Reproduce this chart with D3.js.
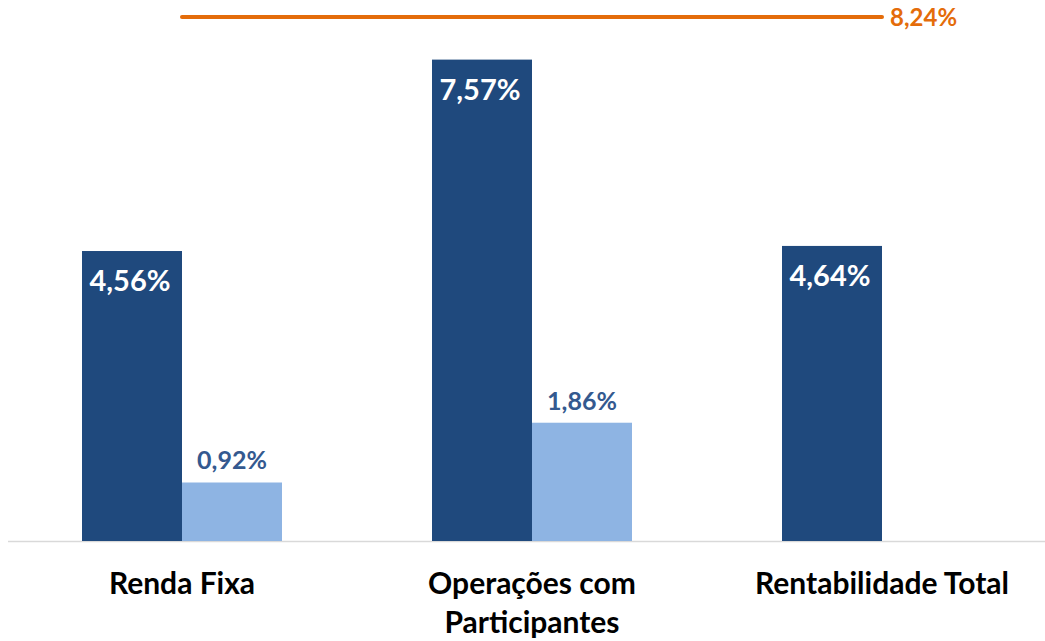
<!DOCTYPE html>
<html>
<head>
<meta charset="utf-8">
<script src="https://cdn.jsdelivr.net/npm/d3@7"></script>
<style>
  html, body { margin: 0; padding: 0; background: #fff; }
  svg { display: block; }
  text { font-family: Lato, "Open Sans", sans-serif; font-weight: 700; }
</style>
</head>
<body>
<svg id="chart" width="1045" height="641"></svg>
<script>
const categories = [["Renda Fixa"], ["Operações com", "Participantes"], ["Rentabilidade Total"]];
const seriesNames = ["Série 1", "Série 2"];
const series1 = [4.56, 7.57, 4.64];
const series2 = [0.92, 1.86, null];
const lineValues = [8.24, 8.24, 8.24];
const lineLabel = "8,24%";

const fmt = v => v.toFixed(2).replace(".", ",") + "%";

const W = 1045, H = 641;
const svg = d3.select("#chart");

const catKeys = categories.map(c => c.join(" "));
const x0 = d3.scaleBand().domain(catKeys).range([7, 1057])
  .paddingInner(3 / 7).paddingOuter(3 / 14);
const x1 = d3.scaleBand().domain(seriesNames).range([0, x0.bandwidth()]);
const y = d3.scaleLinear().domain([0, 8.24]).range([541, 17]);

const colors = ["#1F497D", "#8EB4E3"];

// axis baseline
svg.append("line")
  .attr("x1", 8).attr("x2", W).attr("y1", y(0) + 0.5).attr("y2", y(0) + 0.5)
  .attr("stroke", "#D9D9D9").attr("stroke-width", 1.3);

const allSeries = [series1, series2];
allSeries.forEach((vals, si) => {
  const data = vals.map((v, i) => ({ v, cat: catKeys[i] })).filter(d => d.v != null);
  svg.append("g").selectAll("rect").data(data).join("rect")
    .attr("x", d => x0(d.cat) + x1(seriesNames[si]))
    .attr("width", x1.bandwidth())
    .attr("y", d => y(d.v))
    .attr("height", d => y(0) - y(d.v))
    .attr("fill", colors[si]);
});

// labels series 1 (inside, white)
svg.append("g").selectAll("text")
  .data(series1.map((v, i) => ({ v, cat: catKeys[i] })))
  .join("text")
  .attr("x", d => x0(d.cat) + x1(seriesNames[0]) + x1.bandwidth() / 2 - 2)
  .attr("y", d => y(d.v) + 40)
  .attr("text-anchor", "middle")
  .attr("fill", "#FFFFFF")
  .attr("font-size", 29)
  .text(d => fmt(d.v));

// labels series 2 (above)
svg.append("g").selectAll("text")
  .data(series2.map((v, i) => ({ v, cat: catKeys[i] })).filter(d => d.v != null))
  .join("text")
  .attr("x", d => x0(d.cat) + x1(seriesNames[1]) + x1.bandwidth() / 2)
  .attr("y", d => y(d.v) - 13)
  .attr("text-anchor", "middle")
  .attr("fill", "#34598F")
  .attr("font-size", 25)
  .text(d => fmt(d.v));

// orange line across category centers
const line = d3.line()
  .x((d, i) => x0(catKeys[i]) + x0.bandwidth() / 2)
  .y(d => y(d));
svg.append("path")
  .datum(lineValues)
  .attr("d", line)
  .attr("fill", "none")
  .attr("stroke", "#E46C0A")
  .attr("stroke-width", 4)
  .attr("stroke-linecap", "round");

svg.append("text")
  .attr("x", x0(catKeys[2]) + x0.bandwidth() / 2 + 8)
  .attr("y", y(lineValues[2]) + 9)
  .attr("fill", "#E46C0A")
  .attr("font-size", 24)
  .text(lineLabel);

// category labels
const cg = svg.append("g").selectAll("text")
  .data(categories.map((lines, i) => ({ lines, cat: catKeys[i] })))
  .join("text")
  .attr("text-anchor", "middle")
  .attr("fill", "#000")
  .attr("font-size", 30);
cg.each(function (d) {
  const t = d3.select(this);
  d.lines.forEach((ln, k) => {
    t.append("tspan")
      .attr("x", x0(d.cat) + x0.bandwidth() / 2)
      .attr("y", 594 + k * 39)
      .text(ln);
  });
});
</script>
</body>
</html>
